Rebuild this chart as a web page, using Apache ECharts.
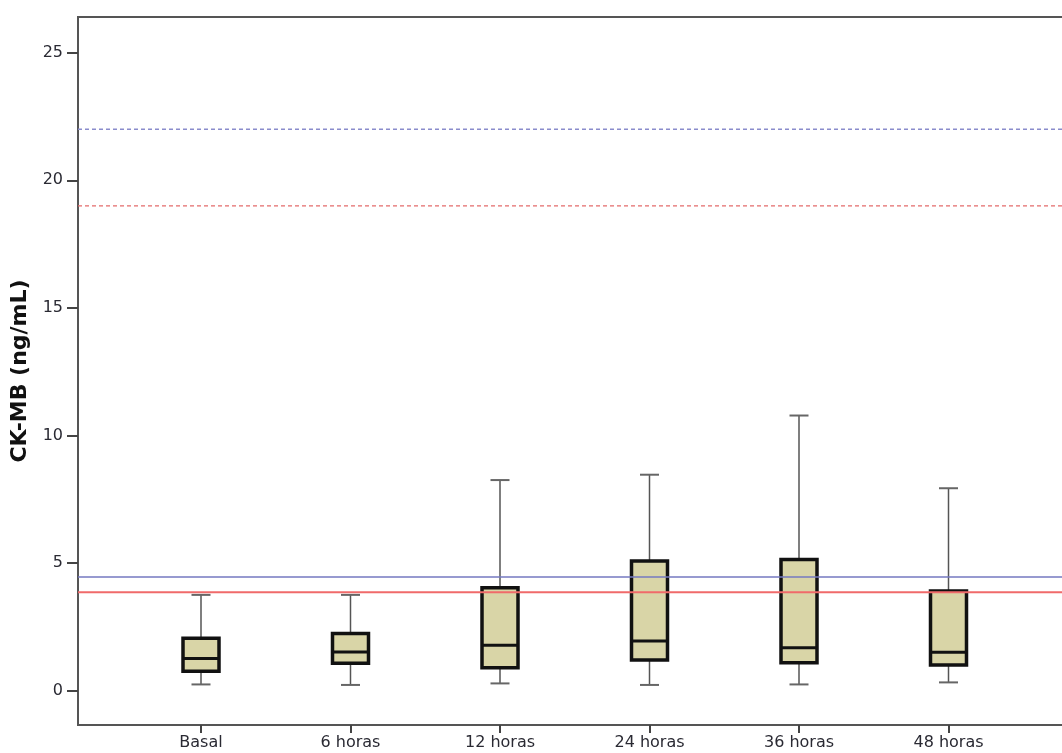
<!DOCTYPE html>
<html>
<head>
<meta charset="utf-8">
<script src="https://cdn.jsdelivr.net/npm/echarts@6/dist/echarts.min.js"></script>
<style>
html,body{margin:0;padding:0;background:#fff;}
#chart{width:1062px;height:753px;}
</style>
</head>
<body>
<div id="chart"></div>
<script>
const categories = ['Basal', '6 horas', '12 horas', '24 horas', '36 horas', '48 horas'];
const whiskerLow = [0.24, 0.22, 0.28, 0.22, 0.24, 0.32];
const q1 = [0.76, 1.07, 0.89, 1.20, 1.09, 1.00];
const median = [1.26, 1.51, 1.78, 1.94, 1.68, 1.50];
const q3 = [2.05, 2.24, 4.03, 5.08, 5.14, 3.90];
const whiskerHigh = [3.75, 3.75, 8.25, 8.46, 10.78, 7.93];
const yTicks = [0, 5, 10, 15, 20, 25];
const refSolidBlue = 4.45;
const refSolidRed = 3.85;
const refDashedBlue = 22;
const refDashedRed = 19;

const Y_MIN = -1.35, Y_MAX = 26.4;
const boxData = categories.map((c, i) => [i, whiskerLow[i], q1[i], median[i], q3[i], whiskerHigh[i]]);

function refLine(v, color, type, width) {
  return {
    type: 'line', xAxisIndex: 0, yAxisIndex: 0, z: 5,
    data: [[0, v], [1, v]], symbol: 'none', silent: true,
    lineStyle: { color: color, type: type, width: width }
  };
}

const chart = echarts.init(document.getElementById('chart'), null, { renderer: 'canvas' });
chart.setOption({
  animation: false,
  backgroundColor: '#fff',
  grid: [
    { left: 78, width: 1010, top: 17, bottom: 28, outerBoundsMode: 'none', containLabel: false,
      show: true, borderColor: '#555', borderWidth: 2, backgroundColor: 'transparent' },
    { left: 126.25, width: 897, top: 17, bottom: 28, outerBoundsMode: 'none', containLabel: false }
  ],
  xAxis: [
    { type: 'value', gridIndex: 0, min: 0, max: 1, show: false },
    {
      type: 'category', gridIndex: 1, data: categories, boundaryGap: true,
      axisLine: { show: false, onZero: false },
      axisTick: { show: true, alignWithLabel: true, length: 8, lineStyle: { color: '#444', width: 2 } },
      axisLabel: { margin: 10, fontFamily: 'DejaVu Sans', fontSize: 16, color: '#2a2a33' },
      splitLine: { show: false }
    }
  ],
  yAxis: [
    {
      type: 'value', gridIndex: 0, min: Y_MIN, max: Y_MAX,
      name: 'CK-MB (ng/mL)', nameLocation: 'middle', nameGap: 37,
      nameTextStyle: { fontFamily: 'DejaVu Sans', fontWeight: 'bold', fontSize: 22, color: '#111' },
      axisLine: { show: false },
      axisTick: { show: true, length: 11, customValues: yTicks, lineStyle: { color: '#444', width: 2 } },
      axisLabel: { margin: 15, customValues: yTicks, fontFamily: 'DejaVu Sans', fontSize: 16, color: '#2a2a33' },
      splitLine: { show: false }
    },
    { type: 'value', gridIndex: 1, min: Y_MIN, max: Y_MAX, show: false }
  ],
  series: [
    {
      type: 'custom', xAxisIndex: 1, yAxisIndex: 1, z: 2,
      data: boxData,
      encode: { x: 0, y: [1, 2, 3, 4, 5] },
      renderItem: function (params, api) {
        const i = api.value(0);
        const pLow = api.coord([i, api.value(1)]);
        const pQ1 = api.coord([i, api.value(2)]);
        const pMed = api.coord([i, api.value(3)]);
        const pQ3 = api.coord([i, api.value(4)]);
        const pHigh = api.coord([i, api.value(5)]);
        const cx = pMed[0];
        const bw = 36, cap = 19;
        const wStyle = { stroke: '#555', lineWidth: 1.5 };
        const cStyle = { stroke: '#666', lineWidth: 2 };
        return {
          type: 'group',
          children: [
            { type: 'line', shape: { x1: cx, y1: pHigh[1], x2: cx, y2: pQ3[1] }, style: wStyle },
            { type: 'line', shape: { x1: cx, y1: pQ1[1], x2: cx, y2: pLow[1] }, style: wStyle },
            { type: 'line', shape: { x1: cx - cap / 2, y1: pHigh[1], x2: cx + cap / 2, y2: pHigh[1] }, style: cStyle },
            { type: 'line', shape: { x1: cx - cap / 2, y1: pLow[1], x2: cx + cap / 2, y2: pLow[1] }, style: cStyle },
            { type: 'rect', shape: { x: cx - bw / 2, y: pQ3[1], width: bw, height: pQ1[1] - pQ3[1] },
              style: { fill: '#d9d5a7', stroke: '#111', lineWidth: 3.5 } },
            { type: 'line', shape: { x1: cx - bw / 2, y1: pMed[1], x2: cx + bw / 2, y2: pMed[1] },
              style: { stroke: '#111', lineWidth: 3 } }
          ]
        };
      }
    },
    refLine(refDashedBlue, '#8a8ccc', [4, 3], 1.3),
    refLine(refDashedRed, '#e36b6b', [4, 3], 1.3),
    refLine(refSolidBlue, '#7579c0', 'solid', 1.5),
    refLine(refSolidRed, '#f06a6a', 'solid', 2)
  ]
});
</script>
</body>
</html>
